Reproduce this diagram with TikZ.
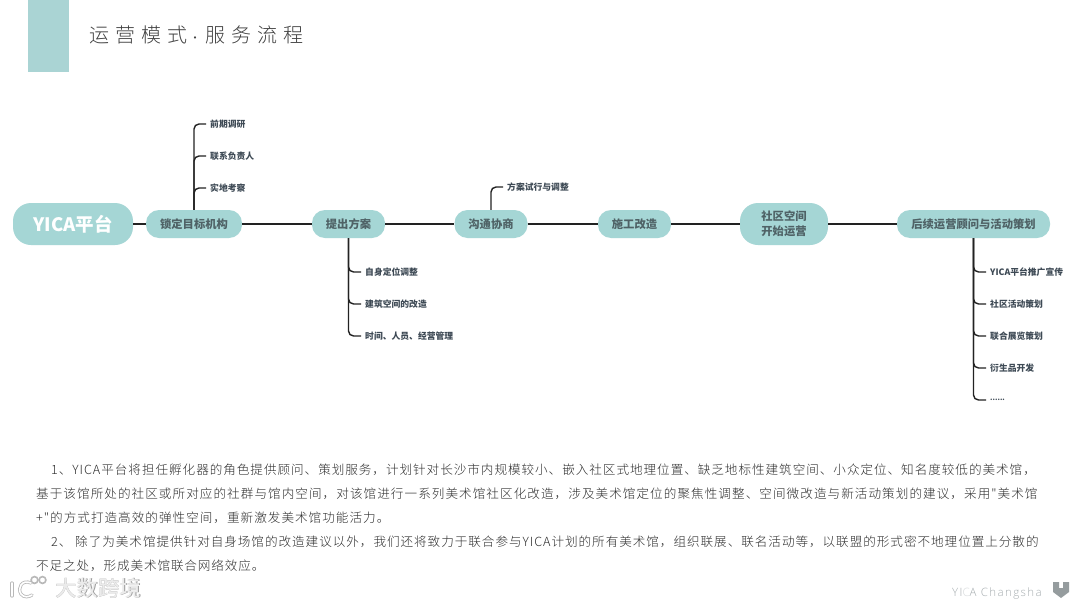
\documentclass[tikz,border=0pt]{standalone}
\usepackage{fontspec}
\setmainfont{Noto Sans CJK SC}
\newfontfamily\cjklight{Noto Sans CJK SC}[UprightFont={* Light}]
\newfontfamily\cjkmed{Noto Sans CJK SC}[UprightFont={* Medium}]
\newfontfamily\footfont{Open Sans}[UprightFont={* Light},LetterSpace=12]
\definecolor{tealbar}{HTML}{AAD4D4}
\definecolor{tealnode}{HTML}{A5D6D5}
\definecolor{nodetext}{HTML}{4F6266}
\definecolor{labeltext}{HTML}{3E4A55}
\definecolor{linedark}{HTML}{222222}
\definecolor{bodytext}{HTML}{2E2E2E}
\definecolor{footgray}{HTML}{A6ADB0}
\newcommand{\paraline}[2]{\addfontfeature{LetterSpace=#1}#2}
\tikzset{
  pill/.style={fill=tealnode,rounded corners=13pt,minimum height=28pt,inner sep=0pt,
    text=nodetext,align=center,font=\bfseries\fontsize{11.3}{15}\selectfont},
  bigpill/.style={pill,rounded corners=18pt,minimum height=42pt},
  leaf/.style={anchor=west,inner xsep=4pt,inner ysep=1pt,text=labeltext,font=\bfseries\fontsize{8.8}{10}\selectfont},
  mainline/.style={draw=linedark,line width=2.4pt},
  branch/.style={draw=linedark,line width=1.4pt,rounded corners=5pt},
  para/.style={anchor=west,inner sep=0pt,text=bodytext,font=\cjklight\fontsize{12.6}{14}\selectfont},
  wmshade/.style={draw=black!28,line width=3.2pt,line cap=round},
  wmlight/.style={draw=white,line width=1.6pt,line cap=round},
}
\begin{document}
\begin{tikzpicture}[x=1pt,y=-1pt]
\useasboundingbox (0,0) rectangle (1080,608);
\fill[white] (0,0) rectangle (1080,608);
% header
\fill[tealbar] (28,0) rectangle (69,72);
\node[anchor=west,inner sep=0pt,text=black!75] (title) at (89,35) {\cjklight\fontsize{20}{22}\selectfont\addfontfeature{LetterSpace=30}运营模式\kern2pt{\fontsize{12}{12}\selectfont ·}\kern4pt 服务流程};
% spine nodes
\node[bigpill,minimum width=120pt,text=white,font=\bfseries\fontsize{18.5}{20}\selectfont] (root) at (73,224) {YICA平台};
\node[pill,minimum width=96pt] (n1) at (194,224) {锁定目标机构};
\node[pill,minimum width=73pt] (n2) at (348.5,224) {提出方案};
\node[pill,minimum width=73pt] (n3) at (491,224) {沟通协商};
\node[pill,minimum width=73pt] (n4) at (634.5,224) {施工改造};
\node[bigpill,minimum width=88pt] (n5) at (784,224) {社区空间\\开始运营};
\node[pill,minimum width=153pt] (n6) at (973.5,224) {后续运营顾问与活动策划};
\foreach \a/\b in {root/n1,n1/n2,n2/n3,n3/n4,n4/n5,n5/n6}
  \draw[mainline] (\a) -- (\b);
% leaves
\node[leaf] (a1) at (206,124) {前期调研};
\node[leaf] (a2) at (206,156) {联系负责人};
\node[leaf] (a3) at (206,188) {实地考察};
\node[leaf] (b1) at (361,272) {自身定位调整};
\node[leaf] (b2) at (361,304) {建筑空间的改造};
\node[leaf] (b3) at (361,336) {时间、人员、经营管理};
\node[leaf] (c1) at (503,187) {方案试行与调整};
\node[leaf] (d1) at (986,272) {YICA平台推广宣传};
\node[leaf] (d2) at (986,304) {社区活动策划};
\node[leaf] (d3) at (986,336) {联合展览策划};
\node[leaf] (d4) at (986,368) {衍生品开发};
\node[leaf] (d5) at (986,400) {\fontsize{7}{8}\selectfont ......};
\foreach \p/\c in {n1/a1,n1/a2,n1/a3,n3/c1}
  \draw[branch] (\p.north) |- (\c.west);
\foreach \p/\c in {n2/b1,n2/b2,n2/b3,n6/d1,n6/d2,n6/d3,n6/d4,n6/d5}
  \draw[branch] (\p.south) |- (\c.west);
% paragraphs
\node[para] (p1) at (51,470) {\paraline{7.6}{1、YICA平台将担任孵化器的角色提供顾问、策划服务，计划针对长沙市内规模较小、嵌入社区式地理位置、缺乏地标性建筑空间、小众定位、知名度较低的美术馆，}};
\node[para] (p2) at (36,494) {\paraline{8.3}{基于该馆所处的社区或所对应的社群与馆内空间，对该馆进行一系列美术馆社区化改造，涉及美术馆定位的聚焦性调整、空间微改造与新活动策划的建议，采用"美术馆}};
\node[para] (p3) at (36,518) {\paraline{8}{+"的方式打造高效的弹性空间，重新激发美术馆功能活力。}};
\node[para] (p4) at (51,542) {\paraline{7.6}{2、 除了为美术馆提供针对自身场馆的改造建议以外，我们还将致力于联合参与YICA计划的所有美术馆，组织联展、联名活动等，以联盟的形式密不地理位置上分散的}};
\node[para] (p5) at (36,566) {\paraline{7}{不足之处，形成美术馆联合网络效应。}};
% watermark
\draw[wmshade] (12,583) -- (12,596);
\draw[wmshade] (31,583) .. controls (22,579) and (17,588) .. (21,594) .. controls (24,598) and (29,597) .. (32,595);
\draw[black!28,line width=1.6pt] (34.5,580) circle (3.4);
\draw[black!28,line width=1.6pt] (42.5,580) circle (3.4);
\draw[wmlight] (12,583) -- (12,596);
\draw[wmlight] (31,583) .. controls (22,579) and (17,588) .. (21,594) .. controls (24,598) and (29,597) .. (32,595);
\node[anchor=west,inner sep=0pt,text=black!40] (wmb) at (55.6,588.6) {\cjkmed\fontsize{21.5}{23}\selectfont 大数跨境};
\node[anchor=west,inner sep=0pt,text=black!8] (wm) at (55,588) {\cjkmed\fontsize{21.5}{23}\selectfont 大数跨境};
% footer
\node[anchor=west,inner sep=0pt,text=footgray] (foot) at (952,593.5) {\footfont\fontsize{11.5}{13}\selectfont YI{\color{footgray!45}C}A Changsha};
\fill[footgray!90!black] (1053,582) -- (1059,582) -- (1059,588) -- (1063,588) -- (1063,582) -- (1069,582) -- (1069,592) -- (1061,598) -- (1053,592) -- cycle;
\end{tikzpicture}
\end{document}
